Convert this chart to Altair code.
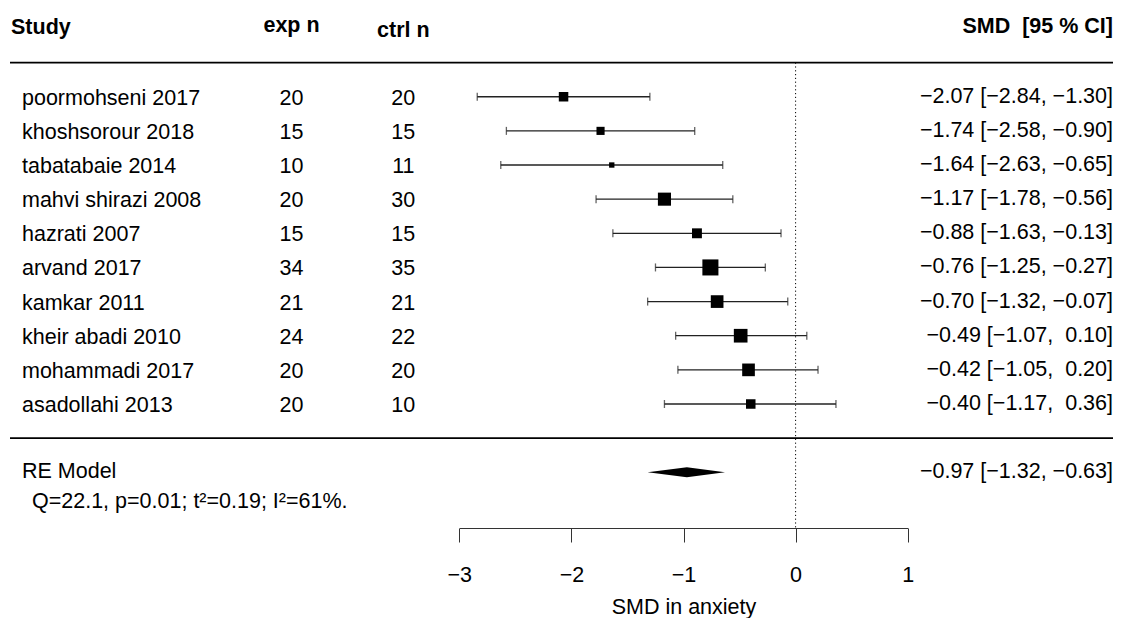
import altair as alt
import pandas as pd

# ---------------- data ----------------
studies = ["poormohseni 2017", "khoshsorour 2018", "tabatabaie 2014", "mahvi shirazi 2008",
           "hazrati 2007", "arvand 2017", "kamkar 2011", "kheir abadi 2010",
           "mohammadi 2017", "asadollahi 2013"]
exp_n = [20, 15, 10, 20, 15, 34, 21, 24, 20, 20]
ctrl_n = [20, 15, 11, 30, 15, 35, 21, 22, 20, 10]
smd = [-2.07, -1.74, -1.64, -1.17, -0.88, -0.76, -0.70, -0.49, -0.42, -0.40]
ci_lo = [-2.84, -2.58, -2.63, -1.78, -1.63, -1.25, -1.32, -1.07, -1.05, -1.17]
ci_hi = [-1.30, -0.90, -0.65, -0.56, -0.13, -0.27, -0.07, 0.10, 0.20, 0.36]
weight_pct = [9.2, 8.5, 7.1, 11.0, 9.4, 12.5, 10.8, 11.3, 10.8, 9.2]  # estimated from square sizes

re_label = "RE Model"
re_est, re_lo, re_hi = -0.97, -1.32, -0.63
het_text = "Q=22.1, p=0.01; t\u00b2=0.19; I\u00b2=61%."
header_labels = ["Study", "exp n", "ctrl n", "SMD\u00a0 [95 % CI]"]
axis_ticks = [-3, -2, -1, 0, 1]
axis_title = "SMD in anxiety"

# ---------------- layout / style ----------------
FONT = "Liberation Sans"
FS = 21.5
W, H = 1105, 520
PX_PER_ROW = 34.14
Y0_PX = 430.14                      # pixel of row 0 (separator line)
Y_MAX = Y0_PX / PX_PER_ROW
Y_MIN = Y_MAX - H / PX_PER_ROW
X_RANGE = [451.3, 899.7]            # pixel span of the axis (-3 .. 1)
COL_STUDY, COL_EXP, COL_CTRL, COL_EST = 14, 283.5, 395.3, 1105


def fmt(v):
    return ("\u2212" if v < 0 else "\u00a0") + f"{abs(v):.2f}"


def ci_label(e, lo, hi):
    return f"{fmt(e)} [{fmt(lo)}, {fmt(hi)}]"


k = len(studies)
df = pd.DataFrame({"study": studies, "exp_n": exp_n, "ctrl_n": ctrl_n,
                   "smd": smd, "lo": ci_lo, "hi": ci_hi, "w": weight_pct})
df["row"] = [k - i for i in range(k)]
df["label"] = [ci_label(e, l, h) for e, l, h in zip(smd, ci_lo, ci_hi)]
wmin, wmax = min(weight_pct), max(weight_pct)
df["area"] = [(10.7 * (0.5 + (w - wmin) / (wmax - wmin))) ** 2 for w in weight_pct]

re_df = pd.DataFrame({"row": [-1], "label": [re_label],
                      "ci": [ci_label(re_est, re_lo, re_hi)], "het": [het_text]})
half = 5 / PX_PER_ROW
dia_df = pd.DataFrame({"x": [re_lo, re_est, re_hi],
                       "y": [-1, -1 + half, -1], "y2": [-1, -1 - half, -1]})
hdr_df = pd.DataFrame({"row": [k + 2] * 4, "text": header_labels})
lines_df = pd.DataFrame({"row": [k + 1, 0]})
ref_df = pd.DataFrame({"x": [0], "row": [k + 1]})

X_SCALE = alt.Scale(domain=[-3, 1], range=X_RANGE, nice=False, zero=False)
Y_SCALE = alt.Scale(domain=[Y_MIN, Y_MAX], nice=False, zero=False)
X_AXIS = alt.Axis(values=axis_ticks, grid=False, format="d", tickSize=14, tickWidth=1,
                  tickColor="#333", domainColor="#333", domainWidth=1,
                  labelFont=FONT, labelFontSize=FS, labelColor="black", labelPadding=22,
                  labelFlush=False, labelOverlap=False,
                  titleFont=FONT, titleFontSize=FS, titleFontWeight="normal",
                  titleColor="black", titleBaseline="alphabetic", titleY=85)


def X(field):
    return alt.X(f"{field}:Q", scale=X_SCALE, axis=X_AXIS, title=axis_title)


def Y(field):
    return alt.Y(f"{field}:Q", scale=Y_SCALE, axis=None)


base = alt.Chart(df)

ci_rule = base.mark_rule(color="#222", strokeWidth=1.3).encode(x=X("lo"), x2="hi", y=Y("row"))
cap_lo = base.mark_tick(orient="vertical", size=8, thickness=1.3, color="#222").encode(x=X("lo"), y=Y("row"))
cap_hi = base.mark_tick(orient="vertical", size=8, thickness=1.3, color="#222").encode(x=X("hi"), y=Y("row"))
squares = base.mark_square(color="black", opacity=1).encode(
    x=X("smd"), y=Y("row"), size=alt.Size("area:Q", scale=None, legend=None))

diamond = alt.Chart(dia_df).mark_area(color="black", orient="vertical").encode(
    x=X("x"), y=Y("y"), y2="y2")

ref_line = alt.Chart(ref_df).mark_rule(color="black", strokeWidth=1, strokeDash=[1.2, 2.6]).encode(
    x=X("x"), y=Y("row"), y2=alt.value(H))

hlines = alt.Chart(lines_df).mark_rule(color="black", strokeWidth=1.6).encode(
    y=Y("row"), x=alt.value(2), x2=alt.value(W))

txt = dict(font=FONT, fontSize=FS, color="black", baseline="middle")
study_txt = base.mark_text(align="left", dy=2, **txt).encode(x=alt.value(COL_STUDY), y=Y("row"), text="study")
exp_txt = base.mark_text(align="center", dy=2, **txt).encode(x=alt.value(COL_EXP), y=Y("row"), text="exp_n:N")
ctrl_txt = base.mark_text(align="center", dy=2, **txt).encode(x=alt.value(COL_CTRL), y=Y("row"), text="ctrl_n:N")
est_txt = base.mark_text(align="right", **txt).encode(x=alt.value(COL_EST), y=Y("row"), text="label")

re_name = alt.Chart(re_df).mark_text(align="left", **txt).encode(x=alt.value(COL_STUDY), y=Y("row"), text="label")
re_ci = alt.Chart(re_df).mark_text(align="right", **txt).encode(x=alt.value(COL_EST), y=Y("row"), text="ci")
re_het = alt.Chart(re_df).mark_text(align="left", dy=30, **txt).encode(x=alt.value(COL_STUDY + 10), y=Y("row"), text="het")

htxt = dict(font=FONT, fontSize=FS, color="black", baseline="middle", fontWeight="bold")
hdr = alt.Chart(hdr_df)
h_study = hdr.transform_filter(alt.datum.text == header_labels[0]).mark_text(align="left", **htxt).encode(
    x=alt.value(3), y=Y("row"), text="text")
h_exp = hdr.transform_filter(alt.datum.text == header_labels[1]).mark_text(align="center", dy=-2, **htxt).encode(
    x=alt.value(COL_EXP), y=Y("row"), text="text")
h_ctrl = hdr.transform_filter(alt.datum.text == header_labels[2]).mark_text(align="center", dy=3, **htxt).encode(
    x=alt.value(COL_CTRL), y=Y("row"), text="text")
h_est = hdr.transform_filter(alt.datum.text == header_labels[3]).mark_text(align="right", dy=-1, **htxt).encode(
    x=alt.value(COL_EST), y=Y("row"), text="text")

chart = alt.layer(
    hlines, ref_line, ci_rule, cap_lo, cap_hi, squares, diamond,
    study_txt, exp_txt, ctrl_txt, est_txt, re_name, re_ci, re_het,
    h_study, h_exp, h_ctrl, h_est
).properties(
    width=W, height=H,
    autosize=alt.AutoSizeParams(type="none"),
    padding={"left": 0, "top": 0, "right": 0, "bottom": 90},
    background="white",
).configure_view(stroke=None)

chart.save("out.html", embed_options={"renderer": "svg", "actions": False})
